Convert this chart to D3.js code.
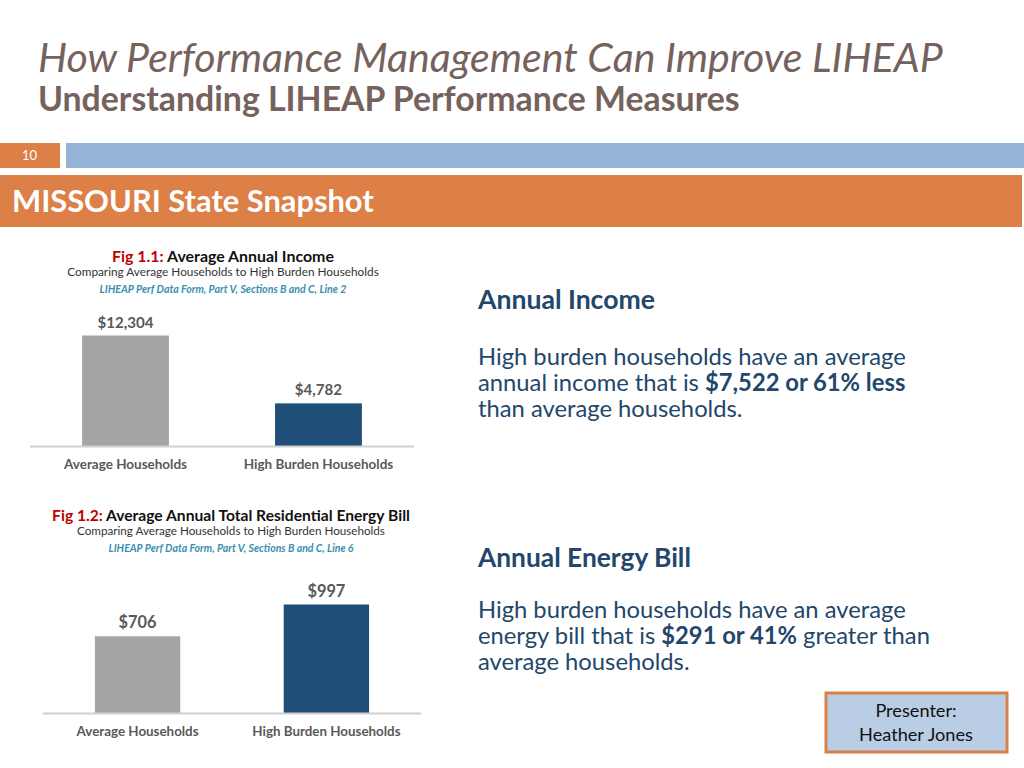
<!DOCTYPE html>
<html><head><meta charset="utf-8">
<script src="https://cdn.jsdelivr.net/npm/d3@7"></script>
<style>body{margin:0;background:#fff}svg{display:block}text{font-family:Lato,"Open Sans",sans-serif}</style>
</head><body>
<svg id="s" width="1024" height="768"></svg>
<script>
const categories = ["Average Households", "High Burden Households"];
const incomeValues = [12304, 4782];
const energyValues = [706, 997];
const incomeLabels = ["$12,304", "$4,782"];
const energyLabels = ["$706", "$997"];
const barColors = ["#a5a5a5", "#1f4e79"];

const svg = d3.select("#s");
// scale font-size so the text spans the target width
function fit(sel, w){
  const n = sel.node(); const fs = parseFloat(sel.attr("font-size"));
  const L = n.getComputedTextLength();
  const nf = fs*w/L; sel.attr("font-size", nf); return nf;
}
fit(svg.append("text").attr("x",38).attr("y",71.5).attr("font-size",37).attr("font-style","italic").attr("fill","#76625c").text("How Performance Management Can Improve LIHEAP"),905);
fit(svg.append("text").attr("x",38).attr("y",110.5).attr("font-size",29).attr("font-weight","bold").attr("fill","#76625c").text("Understanding LIHEAP Performance Measures"),702);
svg.append("rect").attr("x",0).attr("y",143).attr("width",60).attr("height",25).attr("fill","#dd8047");
svg.append("text").attr("x",22).attr("y",160).attr("font-size",13).attr("fill","#fff").text("10");
svg.append("rect").attr("x",66).attr("y",143).attr("width",958).attr("height",25).attr("fill","#95b3d7");
svg.append("rect").attr("x",0).attr("y",175).attr("width",1022).attr("height",52).attr("fill","#dd8047");
fit(svg.append("text").attr("x",12).attr("y",212).attr("font-size",27).attr("font-weight","bold").attr("fill","#fff").text("MISSOURI State Snapshot"),362);

function chart(cfg){
  const g = svg.append("g");
  const t = g.append("text").attr("x",cfg.cx).attr("y",cfg.ty).attr("text-anchor","middle").attr("font-size",14).attr("font-weight","bold");
  t.append("tspan").attr("fill","#c00000").text(cfg.fig+": ");
  t.append("tspan").attr("fill","#111").text(cfg.title);
  fit(t, cfg.tw);
  fit(g.append("text").attr("x",cfg.cx).attr("y",cfg.ty+14).attr("text-anchor","middle").attr("font-size",11).attr("fill","#333").text("Comparing Average Households to High Burden Households"), cfg.sw);
  fit(g.append("text").attr("x",cfg.cx).attr("y",cfg.ty+31).attr("text-anchor","middle").attr("font-size",9).attr("font-weight","bold").attr("font-style","italic").attr("fill","#3a8fb0").text(cfg.source), cfg.srcw);
  const x = d3.scaleBand().domain(categories).range([cfg.x0,cfg.x1]).paddingInner(cfg.pi).paddingOuter(cfg.po);
  const y = d3.scaleLinear().domain([0,cfg.max]).range([cfg.base,cfg.base-cfg.h]);
  g.selectAll("rect.b").data(cfg.values).join("rect").attr("class","b")
    .attr("x",(d,i)=>x(categories[i])).attr("width",x.bandwidth())
    .attr("y",d=>y(d)).attr("height",d=>y(0)-y(d)).attr("fill",(d,i)=>barColors[i]);
  const vl = g.selectAll("text.v").data(cfg.values).join("text").attr("class","v")
    .attr("x",(d,i)=>x(categories[i])+x.bandwidth()/2).attr("y",d=>y(d)-8)
    .attr("text-anchor","middle").attr("font-size",14).attr("font-weight","bold").attr("fill","#595959")
    .text((d,i)=>cfg.labels[i]);
  const vfs = 14*cfg.vw/vl.node().getComputedTextLength();
  vl.attr("font-size", vfs);
  const ax = g.append("g").attr("transform",`translate(0,${cfg.base})`).call(d3.axisBottom(x).tickSize(0).tickPadding(0));
  ax.select(".domain").attr("stroke","#d0d0d0").attr("stroke-width",2).attr("d",`M${cfg.x0},0H${cfg.x1}`);
  const tt = ax.selectAll(".tick text").attr("font-size",12).attr("font-weight","bold").attr("fill","#595959").attr("font-family","Lato,sans-serif").attr("dy",null).attr("y",cfg.catY-cfg.base);
  const cfs = 12*cfg.cw/tt.nodes()[0].getComputedTextLength();
  tt.attr("font-size", cfs);
}
chart({fig:"Fig 1.1",title:"Average Annual Income",source:"LIHEAP Perf Data Form, Part V, Sections B and C, Line 2",
  cx:223,ty:262,tw:222,sw:312,srcw:247,vw:56,cw:123,catY:469,
  x0:30,x1:414,pi:0.55,po:0.27,base:446.5,max:12304,h:111,values:incomeValues,labels:incomeLabels});
chart({fig:"Fig 1.2",title:"Average Annual Total Residential Energy Bill",source:"LIHEAP Perf Data Form, Part V, Sections B and C, Line 6",
  cx:231,ty:521,tw:358,sw:308,srcw:245,vw:38,cw:122,catY:736,
  x0:43,x1:421,pi:0.548,po:0.275,base:713.5,max:997,h:109,values:energyValues,labels:energyLabels});

const navy = "#22476a";
function para(x,y0,lines,w){
  const ts = lines.map((ln,i)=>{
    const t = svg.append("text").attr("x",x).attr("y",y0+i*26).attr("font-size",21).attr("fill",navy);
    ln.forEach(([s,b])=>t.append("tspan").attr("font-weight",b?"bold":"normal").text(s));
    return t;
  });
  const fs = fit(ts[0], w);
  ts.forEach(t=>t.attr("font-size",fs));
}
fit(svg.append("text").attr("x",478).attr("y",309).attr("font-size",24).attr("font-weight","bold").attr("fill",navy).text("Annual Income"),177);
para(478,365,[[["High burden households have an average",0]],[["annual income that is ",0],["$7,522 or 61% less",1]],[["than average households.",0]]],428);
fit(svg.append("text").attr("x",478).attr("y",567).attr("font-size",24).attr("font-weight","bold").attr("fill",navy).text("Annual Energy Bill"),213);
para(478,618,[[["High burden households have an average",0]],[["energy bill that is ",0],["$291 or 41%",1],[" greater than",0]],[["average households.",0]]],428);

svg.append("rect").attr("x",826).attr("y",693).attr("width",181).attr("height",59).attr("fill","#b9cde5").attr("stroke","#d9804a").attr("stroke-width",3);
const p1 = svg.append("text").attr("x",916).attr("y",717).attr("text-anchor","middle").attr("font-size",17).attr("fill","#111").text("Presenter:");
const pf = fit(svg.append("text").attr("x",916).attr("y",741).attr("text-anchor","middle").attr("font-size",17).attr("fill","#111").text("Heather Jones"),114);
p1.attr("font-size",pf);
</script></body></html>
